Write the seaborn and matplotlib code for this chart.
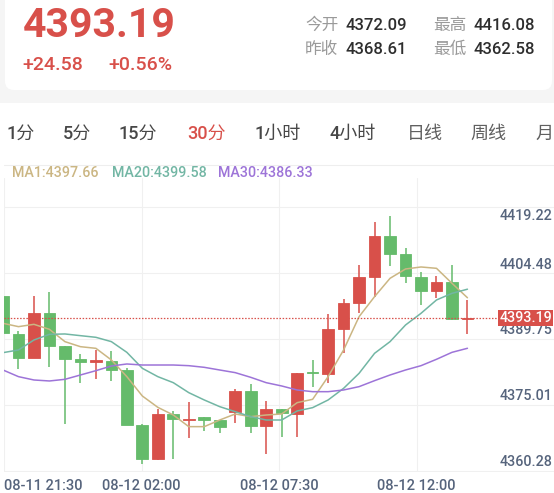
import matplotlib
matplotlib.use("Agg")
import matplotlib.pyplot as plt
from matplotlib.patches import Rectangle, FancyBboxPatch
import numpy as np
import pandas as pd
import seaborn as sns

# candles, 30 min bars
opens = [4398.06, 4389.54, 4384.23, 4394.17, 4386.92, 4383.86, 4383.20, 4383.48,
         4381.46, 4369.06, 4361.43, 4371.52, 4370.25, 4370.93, 4370.25, 4372.12,
         4376.76, 4368.98, 4372.72, 4371.52, 4381.09, 4380.57, 4390.58, 4396.41,
         4402.24, 4411.43, 4407.40, 4402.39, 4399.25, 4401.19, 4392.97]
closes = [4389.69, 4384.23, 4394.17, 4386.84, 4383.86, 4383.26, 4383.60, 4381.46,
          4369.13, 4361.43, 4371.52, 4370.40, 4370.55, 4370.25, 4368.76, 4376.76,
          4368.98, 4372.72, 4371.75, 4380.79, 4380.72, 4390.58, 4396.41, 4402.24,
          4411.43, 4407.55, 4402.54, 4399.25, 4401.19, 4392.82, 4393.19]
highs = [4398.13, 4390.21, 4398.13, 4398.88, 4386.92, 4384.98, 4385.95, 4385.80,
         4381.84, 4369.28, 4372.64, 4372.27, 4374.21, 4370.93, 4370.25, 4377.20,
         4378.40, 4374.59, 4372.72, 4380.79, 4383.71, 4394.02, 4397.38, 4404.93,
         4414.65, 4416.08, 4408.89, 4403.44, 4402.54, 4404.93, 4397.16]
lows = [4389.60, 4381.61, 4384.23, 4382.21, 4369.28, 4378.47, 4379.45, 4379.07,
        4369.13, 4360.28, 4361.28, 4361.43, 4366.29, 4367.86, 4367.26, 4369.51,
        4367.26, 4362.58, 4366.52, 4366.37, 4377.73, 4378.47, 4385.35, 4394.32,
        4397.91, 4404.78, 4400.90, 4396.04, 4397.53, 4392.67, 4389.46]

# moving average lines as drawn
ma1 = [4391.93, 4391.18, 4391.70, 4390.58, 4387.82, 4386.69, 4386.32, 4383.71,
       4379.97, 4375.63, 4373.09, 4371.37, 4368.76, 4368.76, 4370.25, 4371.60,
       4371.00, 4371.37, 4371.60, 4374.14, 4374.89, 4379.97, 4385.95, 4393.42,
       4397.91, 4402.02, 4404.11, 4404.56, 4404.26, 4400.90, 4397.66]
ma20 = [4385.35, 4385.95, 4388.19, 4389.46, 4389.54, 4389.16, 4388.79, 4387.82,
        4385.42, 4381.84, 4379.97, 4378.62, 4376.38, 4374.74, 4373.24, 4372.12,
        4371.00, 4370.25, 4370.25, 4372.27, 4373.02, 4374.74, 4377.35, 4380.72,
        4385.20, 4387.82, 4391.55, 4394.17, 4397.16, 4398.65, 4399.58]
ma30 = [4381.46, 4379.97, 4379.22, 4379.00, 4379.37, 4380.34, 4381.31, 4382.36,
        4382.81, 4382.58, 4382.58, 4382.58, 4382.43, 4382.06, 4381.46, 4380.87,
        4379.82, 4378.62, 4377.88, 4376.98, 4376.60, 4376.60, 4376.98, 4377.73,
        4379.07, 4380.34, 4381.46, 4382.43, 4383.86, 4385.42, 4386.33]

y_labels = ["4419.22", "4404.48", "4389.75", "4375.01", "4360.28"]
x_labels = ["08-11 21:30", "08-12 02:00", "08-12 07:30", "08-12 12:00"]
tabs = ["1分", "5分", "15分", "30分", "1小时", "4小时", "日线", "周线", "月"]
last_price = 4393.19

RED = "#d8504a"
GREEN = "#65bb6b"
KHAKI = "#cbb683"
TEAL = "#72b6a4"
PURPLE = "#9d74d8"
AXIS_TXT = "#56647c"

sns.set_theme(style="white")
plt.rcParams["font.family"] = ["Roboto", "Noto Sans CJK SC", "DejaVu Sans"]

fig = plt.figure(figsize=(5.54, 4.93), dpi=100)

# background / header drawn in pixel coords
bg = fig.add_axes([0, 0, 1, 1])
bg.set_xlim(0, 554)
bg.set_ylim(493, 0)
bg.axis("off")
bg.add_patch(Rectangle((0, 0), 554, 103, color="#f5f5f5", lw=0))
bg.add_patch(FancyBboxPatch((5, -20), 547, 110,
                            boxstyle="round,pad=0,rounding_size=9",
                            fc="white", ec="none"))

bg.text(23, 36.7, f"{last_price:.2f}", fontsize=29.5, fontweight="bold",
        color=RED, va="baseline")
bg.text(22, 70.5, "+24.58", fontsize=14, fontweight="medium", color=RED, va="baseline")
bg.text(108, 70.5, "+0.56%", fontsize=14, fontweight="medium", color=RED, va="baseline")

stats = [("今开", "4372.09", 305, 30), ("最高", "4416.08", 433, 30),
         ("昨收", "4368.61", 305, 54), ("最低", "4362.58", 433, 54)]
for lab, val, x0, yb in stats:
    bg.text(x0, yb, lab, fontsize=12, color="#9a9a9a", va="baseline")
    bg.text(x0 + 40, yb, val, fontsize=12, fontweight="medium",
            color="#2e2e2e", va="baseline")

tab_x = [6, 63, 119, 187, 255, 330, 407, 470, 535]
tab_c = ["#474747"] * 3 + [RED] + ["#474747"] * 2 + ["#606060"] * 3
for t, x0, col in zip(tabs, tab_x, tab_c):
    bg.text(x0, 138.5, t, fontsize=13, fontweight="medium", color=col, va="baseline")

bg.plot([4, 554], [165, 165], color="#eeeeee", lw=0.8)
bg.text(12, 177, f"MA1:{ma1[-1]:.2f}", fontsize=10.3, fontweight="medium",
        color=KHAKI, va="baseline")
bg.text(111.7, 177, f"MA20:{ma20[-1]:.2f}", fontsize=10.3, fontweight="medium",
        color=TEAL, va="baseline")
bg.text(218, 177, f"MA30:{ma30[-1]:.2f}", fontsize=10.3, fontweight="medium",
        color=PURPLE, va="baseline")

for lab, xc, ha in zip(x_labels, [4.5, 141.6, 279.1, 416.6],
                       ["left", "center", "center", "center"]):
    bg.text(xc, 490, lab, fontsize=10.5, fontweight="medium", color=AXIS_TXT,
            ha=ha, va="baseline")

# chart
ax = fig.add_axes([4.2 / 554, 21 / 493, 549.8 / 554, 294 / 493])
ax.set_facecolor("none")
ax.set_zorder(2)
for s in ax.spines.values():
    s.set_visible(False)
ax.set_xlim(0.0775, 35.59)
ax.set_ylim(4358.59, 4424.51)

for f in [0.0034, 0.2279, 0.4524, 0.6759, 0.8997]:
    ax.plot([0, 1], [f, f], transform=ax.transAxes, color="#f0f0f0", lw=0.8, zorder=0)
for f in [0, 0.25, 0.5, 0.75]:
    ax.plot([f, f], [0, 1], transform=ax.transAxes, color="#f0f0f0", lw=0.8, zorder=0)

idx = np.arange(len(opens))
o = np.array(opens)
c = np.array(closes)
cols = [RED if cc > oo else GREEN for oo, cc in zip(o, c)]
ax.vlines(idx, lows, highs, colors=cols, lw=1.1, zorder=2)
ax.bar(idx, np.abs(c - o), bottom=np.minimum(o, c), width=0.755,
       color=cols, edgecolor=cols, linewidth=0.6, zorder=3)

df = pd.DataFrame({"idx": idx, "MA1": ma1, "MA20": ma20, "MA30": ma30})
long = df.melt(id_vars="idx", var_name="ma", value_name="val")
sns.lineplot(data=long, x="idx", y="val", hue="ma",
             palette={"MA1": KHAKI, "MA20": TEAL, "MA30": PURPLE},
             linewidth=1.1, legend=False, ax=ax, zorder=4)
ax.set_xlabel("")
ax.set_ylabel("")
ax.set_xticks([])
ax.set_yticks([])

yt = ax.get_yaxis_transform()
ax.plot([0, 0.902], [last_price, last_price], transform=yt, color=RED,
        lw=0.9, ls=(0, (1.2, 1.3)), zorder=5)

for i, lab in enumerate(y_labels):
    dy = -10.5 if i == 0 else 2
    ax.annotate(lab, xy=(0.9964, float(lab)), xycoords=yt, xytext=(0, dy),
                textcoords="offset points", ha="right", va="center",
                fontsize=10.3, fontweight="medium", color=AXIS_TXT, zorder=6)

ax.annotate(f"{last_price:.2f}", xy=(0.9964, last_price), xycoords=yt,
            ha="right", va="center", fontsize=10.3, fontweight="medium",
            color="white", zorder=7,
            bbox=dict(boxstyle="square,pad=0.08", fc=RED, ec="none"))

fig.savefig("out.png", dpi=100)
